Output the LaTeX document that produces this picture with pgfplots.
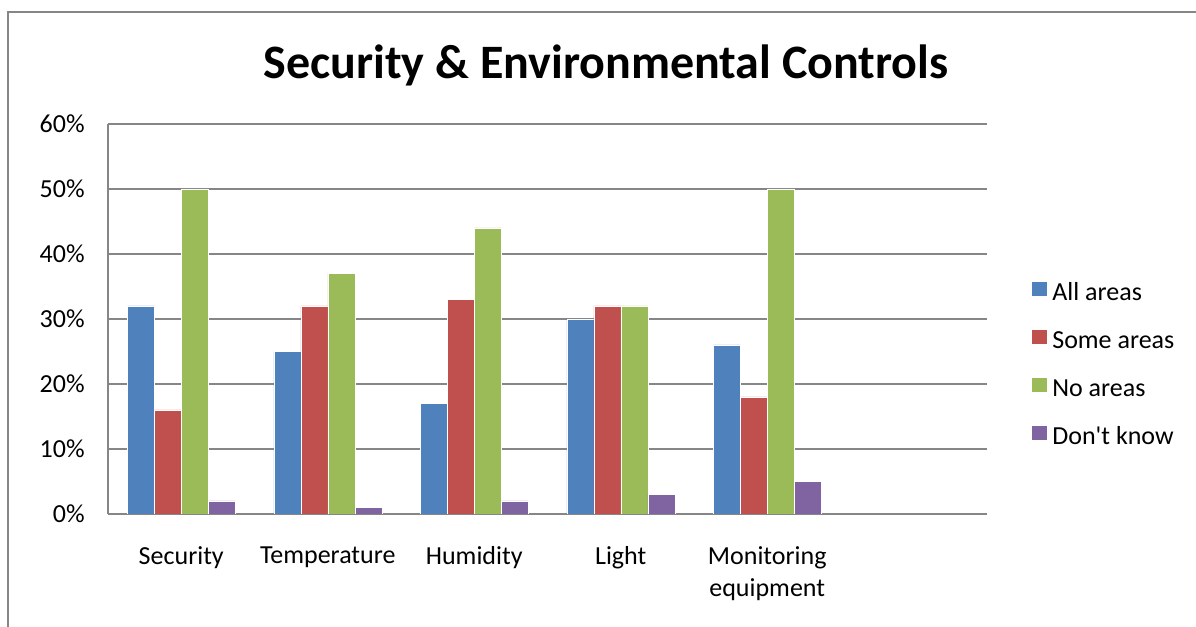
\documentclass[border=0pt]{standalone}
\usepackage{pgfplots}
\pgfplotsset{compat=1.18}
\usepackage{fontspec}
\setmainfont{Carlito}
\definecolor{cBlue}{HTML}{4F81BD}
\definecolor{cRed}{HTML}{C0504D}
\definecolor{cGreen}{HTML}{9BBB59}
\definecolor{cPurple}{HTML}{8064A2}
\definecolor{cGrid}{HTML}{868686}
\begin{document}
\begin{tikzpicture}
\useasboundingbox (0,0) rectangle (897pt,470.25pt);
\draw[cGrid, line width=0.9pt] (6pt,0) -- (6pt,461.25pt) -- (897pt,461.25pt);
\node[anchor=base, font=\fontsize{36}{40}\selectfont\bfseries] at (454.5pt,411.5pt) {Security \& Environmental Controls};
\begin{axis}[
  at={(81pt,84.75pt)}, anchor=south west,
  scale only axis, width=659.25pt, height=292.5pt,
  ybar=0pt, bar width=20.25pt,
  xmin=-0.5, xmax=5.5, ymin=0, ymax=60,
  xtick={0,1,2,3,4}, xticklabels={Security,Temperature,Humidity,Light,{Monitoring\\equipment}},
  xticklabel style={align=center, font=\fontsize{19.5}{24}\selectfont, yshift=-21pt},
  ytick={0,10,...,60},
  yticklabel={\pgfmathprintnumber{\tick}\%},
  yticklabel style={font=\fontsize{19.5}{22}\selectfont, xshift=-14pt},
  /pgf/number format/assume math mode=true,
  axis x line*=bottom, axis y line*=left,
  axis line style={cGrid, line width=1.2pt, -},
  major tick length=0pt,
  tick style={draw=none},
  ymajorgrids, grid style={cGrid, line width=0.9pt},
  legend style={at={(1.0455,0.38)}, anchor=west, draw=none, fill=none,
     font=\fontsize{19.5}{22}\selectfont, row sep=15.5pt,
     nodes={inner sep=1pt, text height=14pt, text depth=4.5pt}},
  legend cell align=left,
  legend image code/.code={\fill[#1] (0pt,-2pt) rectangle (11.5pt,9.5pt);},
  every axis plot/.append style={draw=white, line width=0.3pt},
]
\addplot[fill=cBlue] coordinates {(0,32) (1,25) (2,17) (3,30) (4,26)};
\addplot[fill=cRed] coordinates {(0,16) (1,32) (2,33) (3,32) (4,18)};
\addplot[fill=cGreen] coordinates {(0,50) (1,37) (2,44) (3,32) (4,50)};
\addplot[fill=cPurple] coordinates {(0,2) (1,1) (2,2) (3,3) (4,5)};
\legend{\hspace{3pt}All areas, \hspace{3pt}Some areas, \hspace{3pt}No areas, \hspace{3pt}Don\textquotesingle t know}
\end{axis}
\end{tikzpicture}
\end{document}
